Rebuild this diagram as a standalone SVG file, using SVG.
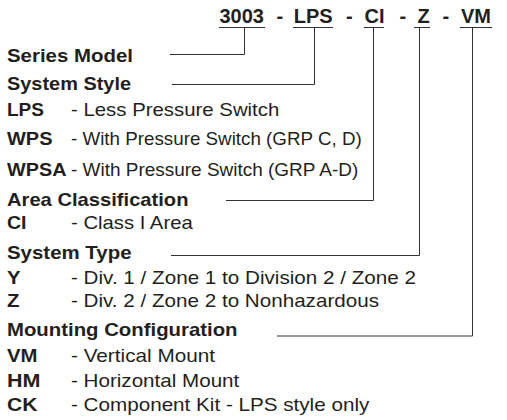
<svg xmlns="http://www.w3.org/2000/svg" width="507" height="420" viewBox="0 0 507 420">
<style>
text{font-family:"Liberation Sans",Arial,Helvetica,sans-serif;fill:#231f20}
.code{font-size:20px;font-weight:bold}
.b{font-size:17.7px;font-weight:bold}
.r{font-size:17.7px}
.ln{stroke:#333;stroke-width:1;fill:none}
</style>
<rect width="507" height="420" fill="#fff"/>
<g id="part-number">
<text class="code" x="219.5" y="23">3003</text>
<text class="code" x="276.5" y="23">-</text>
<text class="code" x="293.7" y="23">LPS</text>
<text class="code" x="346" y="23">-</text>
<text class="code" x="364.5" y="23">CI</text>
<text class="code" x="399.5" y="23">-</text>
<text class="code" x="417.5" y="23">Z</text>
<text class="code" x="442.5" y="23">-</text>
<text class="code" x="461" y="23">VM</text>
<path class="ln" d="M219 27.5H265M293 27.5H333M364 27.5H384M414 27.5H430M460 27.5H492"/>
</g>
<g id="series-model">
<text class="b" x="7" y="61.5" textLength="126" lengthAdjust="spacingAndGlyphs">Series Model</text>
</g>
<g id="system-style">
<text class="b" x="7" y="90" textLength="124" lengthAdjust="spacingAndGlyphs">System Style</text>
<text class="b" x="7" y="116" textLength="37" lengthAdjust="spacingAndGlyphs">LPS</text>
<text class="r" x="71" y="116" textLength="208.3" lengthAdjust="spacingAndGlyphs">- Less Pressure Switch</text>
<text class="b" x="7" y="145" textLength="45.5" lengthAdjust="spacingAndGlyphs">WPS</text>
<text class="r" x="71" y="145" textLength="290.7" lengthAdjust="spacingAndGlyphs">- With Pressure Switch (GRP C, D)</text>
<text class="b" x="7" y="175.5" textLength="59.5" lengthAdjust="spacingAndGlyphs">WPSA</text>
<text class="r" x="71" y="175.5" textLength="287.3" lengthAdjust="spacingAndGlyphs">- With Pressure Switch (GRP A-D)</text>
</g>
<g id="area-classification">
<text class="b" x="7" y="206" textLength="181.5" lengthAdjust="spacingAndGlyphs">Area Classification</text>
<text class="b" x="7" y="229" textLength="19.5" lengthAdjust="spacingAndGlyphs">CI</text>
<text class="r" x="71" y="229" textLength="121.7" lengthAdjust="spacingAndGlyphs">- Class I Area</text>
</g>
<g id="system-type">
<text class="b" x="7" y="259" textLength="124.5" lengthAdjust="spacingAndGlyphs">System Type</text>
<text class="b" x="7" y="283.5" textLength="13.5" lengthAdjust="spacingAndGlyphs">Y</text>
<text class="r" x="71" y="283.5" textLength="345" lengthAdjust="spacingAndGlyphs">- Div. 1 / Zone 1 to Division 2 / Zone 2</text>
<text class="b" x="7" y="306.5" textLength="12.5" lengthAdjust="spacingAndGlyphs">Z</text>
<text class="r" x="71" y="306.5" textLength="308" lengthAdjust="spacingAndGlyphs">- Div. 2 / Zone 2 to Nonhazardous</text>
</g>
<g id="mounting-configuration">
<text class="b" x="7" y="336" textLength="230.5" lengthAdjust="spacingAndGlyphs">Mounting Configuration</text>
<text class="b" x="7" y="362" textLength="30.5" lengthAdjust="spacingAndGlyphs">VM</text>
<text class="r" x="71" y="362" textLength="144" lengthAdjust="spacingAndGlyphs">- Vertical Mount</text>
<text class="b" x="7" y="386.5" textLength="33.5" lengthAdjust="spacingAndGlyphs">HM</text>
<text class="r" x="71" y="386.5" textLength="168.3" lengthAdjust="spacingAndGlyphs">- Horizontal Mount</text>
<text class="b" x="7" y="411" textLength="30.5" lengthAdjust="spacingAndGlyphs">CK</text>
<text class="r" x="71" y="411" textLength="298.3" lengthAdjust="spacingAndGlyphs">- Component Kit - LPS style only</text>
</g>
<g id="connectors">
<path class="ln" d="M244.5 27.5V54.5H170"/>
<path class="ln" d="M314.5 27.5V84.5H172"/>
<path class="ln" d="M373.5 27.5V200.5H226"/>
<path class="ln" d="M419.5 27.5V255.5H171"/>
<path class="ln" d="M472.5 27.5V336H277"/>
</g>
</svg>
